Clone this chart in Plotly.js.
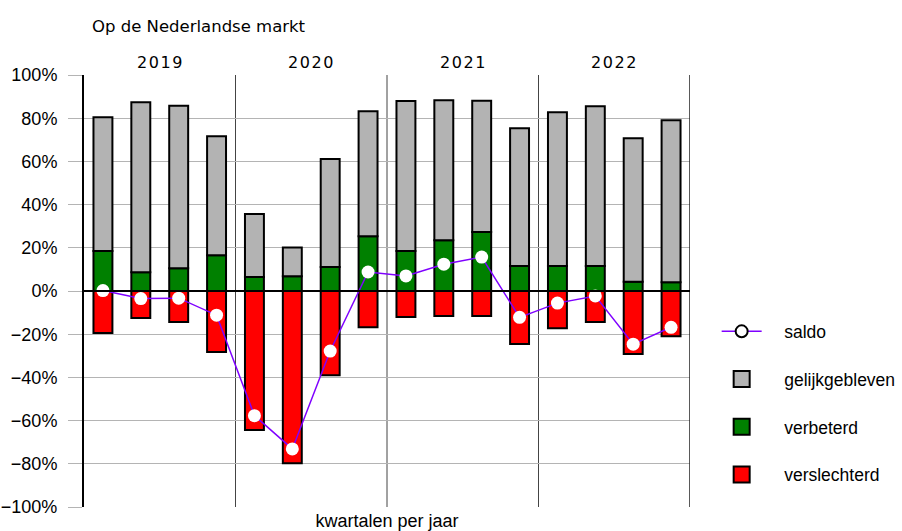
<!DOCTYPE html>
<html>
<head>
<meta charset="utf-8">
<script src="https://cdn.plot.ly/plotly-3.0.1.min.js"></script>
<style>
  body { margin: 0; background: #fff; }
  #chart { width: 902px; height: 531px; }
</style>
</head>
<body>
<div id="chart"></div>
<script>
// kwartalen 2019 t/m 2022
var years = ['2019', '2020', '2021', '2022'];
var quarters = [0, 1, 2, 3, 4, 5, 6, 7, 8, 9, 10, 11, 12, 13, 14, 15];

var verbeterd = [18.5, 8.7, 10.5, 16.5, 6.5, 6.8, 11.1, 25.3, 18.5, 23.5, 27.3, 11.6, 11.6, 11.6, 4.3, 4.0];
var gelijkgebleven = [61.9, 78.7, 75.3, 55.1, 29.2, 13.3, 50.0, 57.9, 69.5, 64.8, 60.8, 63.7, 71.1, 73.9, 66.4, 75.0];
var verslechterd = [-19.4, -12.5, -14.3, -28.2, -64.3, -79.8, -39.0, -16.8, -12.0, -11.6, -11.6, -24.5, -17.3, -14.3, -29.2, -21.0];
var saldo = [0.2, -3.5, -3.3, -11.2, -57.7, -73.1, -27.8, 8.8, 7.0, 12.4, 15.7, -12.2, -5.6, -2.3, -24.6, -16.8];

var font = 'Liberation Sans, Arial, sans-serif';
var kleuren = { verslechterd: '#ff0000', verbeterd: '#008000', gelijkgebleven: '#b3b3b3' };
var pad = '\u2003'; // ruimte tussen symbool en tekst in de legenda

function barTrace(name, values) {
  return {
    type: 'bar', name: name, x: quarters, y: values, width: 0.5, showlegend: false,
    marker: { color: kleuren[name], line: { color: '#000', width: 2 } }
  };
}

// alleen voor de legenda (grotere symbolen)
function legendSquare(name, rank) {
  return {
    type: 'scatter', mode: 'markers', name: pad + name, x: [null], y: [null],
    legendgroup: name, legendrank: rank,
    marker: { symbol: 'square', size: 22, color: kleuren[name], line: { color: '#000', width: 2 } }
  };
}

var data = [
  barTrace('verslechterd', verslechterd),
  barTrace('verbeterd', verbeterd),
  barTrace('gelijkgebleven', gelijkgebleven),
  {
    type: 'scatter', mode: 'lines+markers', name: 'saldo', x: quarters, y: saldo,
    showlegend: false,
    line: { color: '#7f00ff', width: 1.5 },
    marker: { color: '#fff', size: 13, line: { color: '#fff', width: 0 } }
  },
  {
    type: 'scatter', mode: 'lines+markers', name: pad + 'saldo', x: [null], y: [null],
    legendgroup: 'saldo', legendrank: 1,
    line: { color: '#7f00ff', width: 1.5 },
    marker: { color: '#fff', size: 12, line: { color: '#000', width: 2 } }
  },
  legendSquare('gelijkgebleven', 2),
  legendSquare('verbeterd', 3),
  legendSquare('verslechterd', 4)
];

// jaarscheidingen en nullijn
var shapes = [];
[3.5, 7.5, 11.5].forEach(function (xv) {
  shapes.push({ type: 'line', xref: 'x', yref: 'y', x0: xv, x1: xv, y0: -100, y1: 100,
    line: { color: '#444', width: 1 }, layer: 'below' });
});
shapes.push({ type: 'line', xref: 'x', yref: 'y', x0: 15.5, x1: 15.5, y0: -100, y1: 100,
  line: { color: '#222', width: 1.5 } });
shapes.push({ type: 'line', xref: 'x', yref: 'y', x0: -0.5, x1: 15.5, y0: 0, y1: 0,
  line: { color: '#000', width: 2 } });

var annotations = years.map(function (yr, i) {
  return {
    text: yr.split('').join('\u200A'), x: i * 4 + 1.5, xref: 'x', y: 100, yref: 'y',
    yanchor: 'bottom', yshift: 1, showarrow: false,
    font: { family: 'DejaVu Sans, sans-serif', size: 16, color: '#000' }
  };
});
annotations.push({
  text: 'Op de Nederlandse markt', xref: 'paper', yref: 'paper', x: 0.01, y: 1.085,
  xanchor: 'left', yanchor: 'bottom', showarrow: false,
  font: { family: 'DejaVu Sans, sans-serif', size: 16.5, color: '#000' }
});

var layout = {
  width: 902, height: 531,
  margin: { l: 84, r: 212, t: 75, b: 24, autoexpand: false },
  paper_bgcolor: '#fff', plot_bgcolor: '#fff',
  barmode: 'relative',
  font: { family: font, size: 18, color: '#000' },
  showlegend: true,
  legend: {
    x: 1.044, y: 0.448, xanchor: 'left', yanchor: 'top',
    traceorder: 'grouped', tracegroupgap: 22,
    font: { family: font, size: 17.5, color: '#000' },
    itemwidth: 40
  },
  xaxis: {
    range: [-0.5, 15.5], showticklabels: false, showgrid: false, zeroline: false,
    showline: false, ticks: '', fixedrange: true,
    title: { text: 'kwartalen per jaar', standoff: 8, font: { family: font, size: 18, color: '#000' } }
  },
  yaxis: {
    range: [-100, 100], dtick: 20, ticksuffix: '%', showgrid: true, gridcolor: '#b4b4b4',
    gridwidth: 1, zeroline: false, showline: true, linecolor: '#000', linewidth: 2,
    ticks: 'outside', ticklen: 14, tickcolor: '#b4b4b4', tickwidth: 1, ticklabelstandoff: 7,
    tickfont: { family: font, size: 18, color: '#000' }
  },
  shapes: shapes,
  annotations: annotations
};

Plotly.newPlot('chart', data, layout, { staticPlot: true });
</script>
</body>
</html>
